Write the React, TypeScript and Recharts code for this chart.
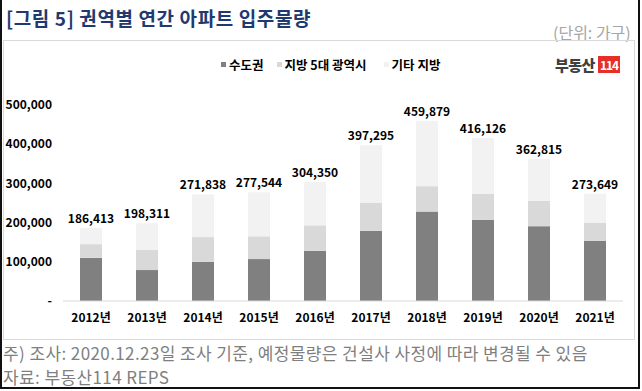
import React from "react";
import { Bar, BarChart, LabelList, Legend, XAxis, YAxis } from "recharts";

const years = ["2012년", "2013년", "2014년", "2015년", "2016년", "2017년", "2018년", "2019년", "2020년", "2021년"];
const totals = [186413, 198311, 271838, 277544, 304350, 397295, 459879, 416126, 362815, 273649];
const capital = [110000, 79000, 100000, 107000, 128000, 179000, 228000, 207000, 191000, 153000];
const metro = [35000, 51000, 63000, 58000, 65000, 72000, 65000, 67000, 65000, 47000];
const yTicks = [0, 100000, 200000, 300000, 400000, 500000];

const seriesNames = ["수도권", "지방 5대 광역시", "기타 지방"];
const seriesColors = ["#808080", "#d9d9d9", "#f2f2f2"];

const data = years.map((year, i) => ({
  year,
  capital: capital[i],
  metro: metro[i],
  other: totals[i] - capital[i] - metro[i],
  total: totals[i]
}));

const font = "'Noto Sans CJK KR', 'Noto Sans', sans-serif";

function LegendContent() {
  return (
    <div style={{ display: "flex", alignItems: "center", fontFamily: font, fontWeight: 700, fontSize: 12.5, color: "#000", whiteSpace: "nowrap" }}>
      {seriesNames.map((name, i) => (
        <div key={name} style={{ display: "flex", alignItems: "center", marginRight: i === 0 ? 13 : 17 }}>
          <span style={{ width: 5, height: 5, background: seriesColors[i], marginRight: 3, display: "inline-block" }} />
          <span>{name}</span>
        </div>
      ))}
    </div>
  );
}

export default function App() {
  return (
    <div
      style={{
        position: "fixed",
        left: 0,
        top: 0,
        width: 642,
        height: 391,
        background: "#fff",
        fontFamily: font,
        overflow: "hidden"
      }}
    >
      {/* outer frame */}
      <div
        style={{
          position: "absolute",
          left: 0,
          top: 0,
          width: 640,
          height: 389,
          borderLeft: "2px solid #111",
          borderRight: "2px solid #111",
          borderBottom: "2px solid #111",
          boxSizing: "border-box"
        }}
      />
      <div
        style={{
          position: "absolute",
          left: 6,
          top: 4,
          fontSize: 19,
          fontWeight: 700,
          color: "#1f3a70",
          whiteSpace: "nowrap",
          letterSpacing: 0.6
        }}
      >
        [그림 5] 권역별 연간 아파트 입주물량
      </div>
      <div style={{ position: "absolute", left: 553, top: 20, fontSize: 16, color: "#a6a6a6", whiteSpace: "nowrap" }}>
        (단위: 가구)
      </div>
      {/* chart box */}
      <div
        style={{
          position: "absolute",
          left: 3,
          top: 40,
          width: 632,
          height: 300,
          border: "1px solid #d9d9d9",
          boxSizing: "border-box"
        }}
      />
      {/* logo */}
      <div style={{ position: "absolute", left: 555, top: 54, display: "flex", alignItems: "center", whiteSpace: "nowrap" }}>
        <span style={{ fontSize: 15, fontWeight: 900, color: "#404040", letterSpacing: -0.5 }}>부동산</span>
        <span
          style={{
            marginLeft: 3,
            background: "#e5302a",
            color: "#fff",
            fontSize: 12,
            fontWeight: 700,
            padding: "0 2px",
            lineHeight: "17px",
            letterSpacing: -1
          }}
        >
          114
        </span>
      </div>
      <div style={{ position: "absolute", left: 0, top: 0 }}>
        <BarChart width={642} height={391} data={data} margin={{ top: 86, right: 19, bottom: 60, left: 0 }} barSize={22}>
          <XAxis
            dataKey="year"
            height={30}
            tickLine={false}
            axisLine={{ stroke: "#d9d9d9" }}
            tickSize={0}
            tickMargin={12}
            tick={{ fontSize: 12, fontWeight: 700, fill: "#000", fontFamily: font }}
            interval={0}
          />
          <YAxis
            width={63}
            domain={[0, 500000]}
            ticks={yTicks}
            axisLine={false}
            tickLine={false}
            tickSize={0}
            tickMargin={11}
            tick={{ fontSize: 12, fontWeight: 700, fill: "#000", fontFamily: font }}
            tickFormatter={(v: number) => (v === 0 ? "-" : v.toLocaleString("en-US"))}
          />
          <Legend
            verticalAlign="top"
            content={<LegendContent />}
            wrapperStyle={{ position: "absolute", top: 55, left: 221, width: "auto" }}
          />
          <Bar dataKey="capital" name={seriesNames[0]} stackId="a" fill={seriesColors[0]} isAnimationActive={false} />
          <Bar dataKey="metro" name={seriesNames[1]} stackId="a" fill={seriesColors[1]} isAnimationActive={false} />
          <Bar dataKey="other" name={seriesNames[2]} stackId="a" fill={seriesColors[2]} isAnimationActive={false}>
            <LabelList
              dataKey="total"
              position="top"
              offset={5}
              formatter={(v: number) => v.toLocaleString("en-US")}
              style={{ fontSize: 12, fontWeight: 700, fill: "#000", fontFamily: font }}
            />
          </Bar>
        </BarChart>
      </div>
      <div
        style={{
          position: "absolute",
          left: 3,
          top: 341,
          fontSize: 17,
          color: "#7f7f7f",
          whiteSpace: "nowrap",
          lineHeight: "24px",
          letterSpacing: 0.4
        }}
      >
        주) 조사: 2020.12.23일 조사 기준, 예정물량은 건설사 사정에 따라 변경될 수 있음
        <br />
        자료: 부동산114 REPS
      </div>
    </div>
  );
}
